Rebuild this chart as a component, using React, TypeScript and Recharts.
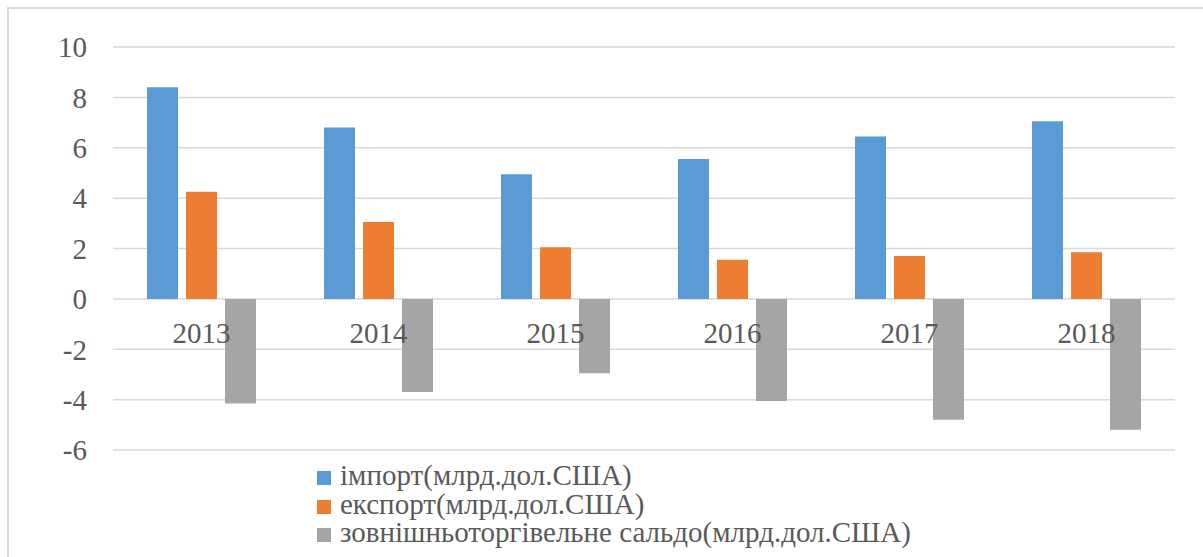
import { BarChart, Bar, XAxis, YAxis, CartesianGrid, Legend } from 'recharts'

const YEARS = ['2013', '2014', '2015', '2016', '2017', '2018']
const IMPORT = [8.4, 6.8, 4.95, 5.55, 6.45, 7.05]
const EXPORT = [4.25, 3.05, 2.05, 1.55, 1.7, 1.85]
const BALANCE = [-4.15, -3.7, -2.95, -4.05, -4.8, -5.2]
const Y_TICKS = [-6, -4, -2, 0, 2, 4, 6, 8, 10]

const SERIES_NAMES = [
  'імпорт(млрд.дол.США)',
  'експорт(млрд.дол.США)',
  'зовнішньоторгівельне сальдо(млрд.дол.США)',
]

const data = YEARS.map((year, i) => ({
  year,
  imp: IMPORT[i],
  exp: EXPORT[i],
  bal: BALANCE[i],
}))

const WIDTH = 1203
const HEIGHT = 557
const X_AXIS_H = 30
const MARGIN = { top: 47, right: 28, bottom: 107 - X_AXIS_H, left: 0 }
const Y_MIN = Y_TICKS[0]
const Y_MAX = Y_TICKS[Y_TICKS.length - 1]
const PLOT_H = HEIGHT - MARGIN.top - MARGIN.bottom - X_AXIS_H
// Excel puts the category labels just under the zero line
const ZERO_Y = MARGIN.top + (Y_MAX / (Y_MAX - Y_MIN)) * PLOT_H

const FONT = '"Liberation Serif", Tinos, "DejaVu Serif", "Times New Roman", Times, serif'
const FONT_SIZE = 29
const TEXT = '#595959'
const ROW_H = 28.5

function CategoryTick({ x, payload }: any) {
  return (
    <text
      x={x}
      y={ZERO_Y + 34}
      textAnchor="middle"
      dominantBaseline="central"
      fill={TEXT}
      fontSize={FONT_SIZE}
      fontFamily={FONT}
    >
      {payload.value}
    </text>
  )
}

function LegendContent({ payload }: any) {
  const items = [...(payload || [])].sort(
    (a: any, b: any) => SERIES_NAMES.indexOf(a.value) - SERIES_NAMES.indexOf(b.value)
  )
  return (
    <div style={{ fontFamily: FONT, fontSize: FONT_SIZE, color: TEXT }}>
      {items.map((p: any) => (
        <div
          key={p.value}
          style={{ display: 'flex', alignItems: 'flex-start', height: ROW_H, whiteSpace: 'nowrap' }}
        >
          <span
            style={{ width: 14, height: 14, background: p.color, marginTop: 10, marginRight: 9, flex: 'none' }}
          />
          <span style={{ display: 'block', height: ROW_H, lineHeight: ROW_H + 'px', overflow: 'visible' }}>
            {p.value}
          </span>
        </div>
      ))}
    </div>
  )
}

export default function App() {
  return (
    <div
      style={{
        position: 'absolute',
        left: 0,
        top: 0,
        width: WIDTH,
        height: HEIGHT,
        overflow: 'hidden',
        background: '#fff',
      }}
    >
      {/* frame, only its top and left edges are in the shot */}
      <div
        style={{
          position: 'absolute',
          left: 7,
          top: 7,
          width: 1300,
          height: 700,
          border: '2px solid #d9d9d9',
        }}
      />
      <div style={{ position: 'absolute', left: 0, top: 0 }}>
        <BarChart
          width={WIDTH}
          height={HEIGHT}
          data={data}
          margin={MARGIN}
          barCategoryGap={34}
          barGap={8}
        >
          <CartesianGrid vertical={false} stroke="#d9d9d9" strokeWidth={1.5} />
          <XAxis
            dataKey="year"
            axisLine={false}
            tickLine={false}
            height={X_AXIS_H}
            tick={<CategoryTick />}
            interval={0}
          />
          <YAxis
            domain={[Y_MIN, Y_MAX]}
            ticks={Y_TICKS}
            width={113}
            axisLine={false}
            tickLine={false}
            tickSize={0}
            tickMargin={26}
            tick={{ fill: TEXT, fontSize: FONT_SIZE, fontFamily: FONT }}
          />
          <Legend
            layout="vertical"
            align="center"
            verticalAlign="middle"
            content={<LegendContent />}
            wrapperStyle={{ position: 'absolute', left: 317, top: 461, width: 'auto' }}
          />
          <Bar dataKey="imp" name={SERIES_NAMES[0]} fill="#5B9BD5" isAnimationActive={false} />
          <Bar dataKey="exp" name={SERIES_NAMES[1]} fill="#ED7D31" isAnimationActive={false} />
          <Bar dataKey="bal" name={SERIES_NAMES[2]} fill="#A5A5A5" isAnimationActive={false} />
        </BarChart>
      </div>
    </div>
  )
}
